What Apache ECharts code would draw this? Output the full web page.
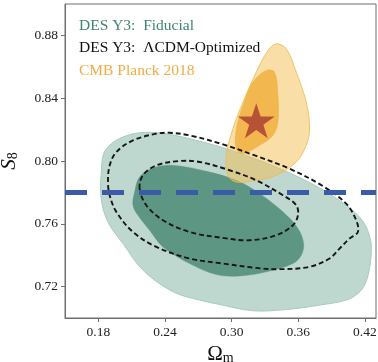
<!DOCTYPE html>
<html>
<head>
<meta charset="utf-8">
<script src="https://cdn.jsdelivr.net/npm/echarts@6/dist/echarts.min.js"></script>
<style>html,body{margin:0;padding:0;background:#fff}#c{width:378px;height:362px}</style>
</head>
<body>
<div id="c"></div>
<script>
// ---- data (Omega_m, S8) ----
const xTicks = [0.18, 0.24, 0.30, 0.36, 0.42];
const yTicks = [0.72, 0.76, 0.80, 0.84, 0.88];
const desFid95 = [[0.1827,0.7930],[0.1848,0.8047],[0.1917,0.8110],[0.2022,0.8153],[0.2172,0.8180],[0.2382,0.8176],[0.2622,0.8142],[0.2922,0.8085],[0.3192,0.8019],[0.3492,0.7934],[0.3792,0.7828],[0.4032,0.7718],[0.4182,0.7616],[0.4248,0.7506],[0.4257,0.7421],[0.4236,0.7294],[0.4197,0.7209],[0.4137,0.7156],[0.4032,0.7114],[0.3792,0.7082],[0.3492,0.7054],[0.3192,0.7046],[0.2892,0.7086],[0.2712,0.7114],[0.2472,0.7167],[0.2202,0.7304],[0.2022,0.7474],[0.1902,0.7591],[0.1842,0.7697],[0.1821,0.7803]];
const desFid68 = [[0.2112,0.7718],[0.2127,0.7803],[0.2172,0.7898],[0.2292,0.7955],[0.2472,0.7972],[0.2772,0.7934],[0.3042,0.7877],[0.3252,0.7792],[0.3462,0.7676],[0.3597,0.7570],[0.3648,0.7474],[0.3627,0.7400],[0.3552,0.7347],[0.3312,0.7294],[0.3072,0.7268],[0.2862,0.7277],[0.2622,0.7347],[0.2382,0.7453],[0.2262,0.7559],[0.2157,0.7654]];
const desOpt95 = [[0.1887,0.7866],[0.1902,0.7972],[0.1962,0.8057],[0.2112,0.8131],[0.2322,0.8174],[0.2442,0.8180],[0.2622,0.8163],[0.2922,0.8106],[0.3222,0.8032],[0.3522,0.7951],[0.3822,0.7840],[0.4032,0.7728],[0.4122,0.7622],[0.4137,0.7548],[0.4062,0.7506],[0.3972,0.7442],[0.3882,0.7379],[0.3702,0.7326],[0.3432,0.7311],[0.3222,0.7319],[0.2922,0.7347],[0.2622,0.7379],[0.2322,0.7453],[0.2112,0.7548],[0.1962,0.7676],[0.1902,0.7782]];
const desOpt68 = [[0.2172,0.7824],[0.2202,0.7909],[0.2322,0.7972],[0.2532,0.8000],[0.2712,0.7994],[0.2982,0.7941],[0.3222,0.7877],[0.3462,0.7782],[0.3582,0.7718],[0.3597,0.7654],[0.3552,0.7591],[0.3402,0.7527],[0.3162,0.7495],[0.2922,0.7510],[0.2622,0.7548],[0.2382,0.7623],[0.2232,0.7718]];
const planck95 = [[0.3402,0.8746],[0.3492,0.8715],[0.3582,0.8566],[0.3672,0.8375],[0.3702,0.8206],[0.3672,0.8100],[0.3582,0.7994],[0.3402,0.7909],[0.3222,0.7877],[0.3042,0.7866],[0.2967,0.7909],[0.2952,0.8036],[0.3012,0.8206],[0.3102,0.8375],[0.3222,0.8566],[0.3327,0.8704]];
const planck68 = [[0.3312,0.8577],[0.3387,0.8566],[0.3417,0.8418],[0.3417,0.8248],[0.3372,0.8163],[0.3252,0.8100],[0.3102,0.8047],[0.3042,0.8078],[0.3042,0.8206],[0.3102,0.8354],[0.3192,0.8503]];
const bestFit = [[0.3222, 0.8257]];
const s8Line = [[0.15, 0.78], [0.43, 0.78]];
const legendTexts = ['DES Y3:  Fiducial', 'DES Y3:  \u039BCDM-Optimized', 'CMB Planck 2018'];

const SERIF = '"Liberation Serif", "DejaVu Serif", serif';

function contour(pts, style, z) {
  return {
    type: 'custom', coordinateSystem: 'cartesian2d', data: pts, z: z, silent: true,
    encode: { x: 0, y: 1 },
    renderItem: function (params, api) {
      if (params.dataIndex !== 0) return null;
      return {
        type: 'polygon',
        shape: { points: pts.map(p => api.coord(p)), smooth: 0.35 },
        style: style
      };
    }
  };
}

const chart = echarts.init(document.getElementById('c'), null, { renderer: 'canvas' });
const axisCommon = {
  type: 'value',
  axisLine: { show: true, onZero: false, lineStyle: { color: '#6f6f6f', width: 1 } },
  axisTick: { show: true, length: 4, lineStyle: { color: '#6f6f6f' } },
  splitLine: { show: false },
  axisLabel: { color: '#222', fontFamily: SERIF, fontSize: 13.5, margin: 7, formatter: v => v.toFixed(2) }
};
chart.setOption({
  animation: false,
  grid: { left: 65, right: 2, top: 4, bottom: 44, show: true, borderColor: '#6f6f6f', borderWidth: 1,
          containLabel: false, outerBoundsMode: 'none' },
  xAxis: Object.assign({}, axisCommon, {
    min: 0.15, max: 0.43,
    axisTick: Object.assign({}, axisCommon.axisTick, { customValues: xTicks }),
    axisLabel: Object.assign({}, axisCommon.axisLabel, { customValues: xTicks }),
    name: '{a|\u03A9}{b|m}', nameLocation: 'middle', nameGap: 23,
    nameTextStyle: { rich: {
      a: { fontFamily: SERIF, fontSize: 21, color: '#111' },
      b: { fontFamily: SERIF, fontSize: 14, color: '#111', verticalAlign: 'bottom', padding: [8, 0, 0, 0] }
    } }
  }),
  yAxis: Object.assign({}, axisCommon, {
    min: 0.70, max: 0.90,
    axisTick: Object.assign({}, axisCommon.axisTick, { customValues: yTicks }),
    axisLabel: Object.assign({}, axisCommon.axisLabel, { customValues: yTicks }),
    name: '{a|S}{b|8}', nameLocation: 'middle', nameGap: 45, nameRotate: 90,
    nameTextStyle: { rich: {
      a: { fontFamily: SERIF, fontSize: 21, fontStyle: 'italic', color: '#111' },
      b: { fontFamily: SERIF, fontSize: 14, color: '#111', verticalAlign: 'bottom', padding: [8, 0, 0, 0] }
    } }
  }),
  graphic: legendTexts.map((t, i) => ({
    type: 'text', x: 79, y: 25.5 + i * 22.5, z: 100,
    style: { text: t, fill: ['#3f866d', '#111111', '#f2ab3f'][i], font: '15.5px ' + SERIF, verticalAlign: 'middle' }
  })),
  series: [
    contour(desFid95, { fill: '#bed7cf', stroke: '#a8cbbf', lineWidth: 1 }, 1),
    contour(desFid68, { fill: '#5e9684', stroke: '#5e9684', lineWidth: 0.5 }, 2),
    contour(planck95, { fill: 'rgba(243,190,80,0.5)', stroke: 'rgba(240,185,70,0.8)', lineWidth: 1 }, 3),
    contour(planck68, { fill: 'rgba(242,170,50,0.75)', stroke: 'rgba(242,170,50,0.8)', lineWidth: 0.5 }, 4),
    contour(desOpt95, { fill: 'none', stroke: '#161616', lineWidth: 1.9, lineDash: [5, 3] }, 5),
    contour(desOpt68, { fill: 'none', stroke: '#161616', lineWidth: 1.9, lineDash: [5, 3] }, 6),
    { type: 'scatter', data: bestFit, z: 7, silent: true,
      symbol: 'path://M50,0 L61.23,34.55 L97.55,34.55 L68.17,55.9 L79.39,90.45 L50,69.1 L20.61,90.45 L31.83,55.9 L2.45,34.55 L38.77,34.55 Z',
      symbolSize: [37, 35], itemStyle: { color: '#a83b32' } },
    { type: 'line', data: s8Line, z: 8, silent: true, symbol: 'none',
      lineStyle: { color: '#3a5ba8', width: 5, type: [22, 15] } }
  ]
});
</script>
</body>
</html>
